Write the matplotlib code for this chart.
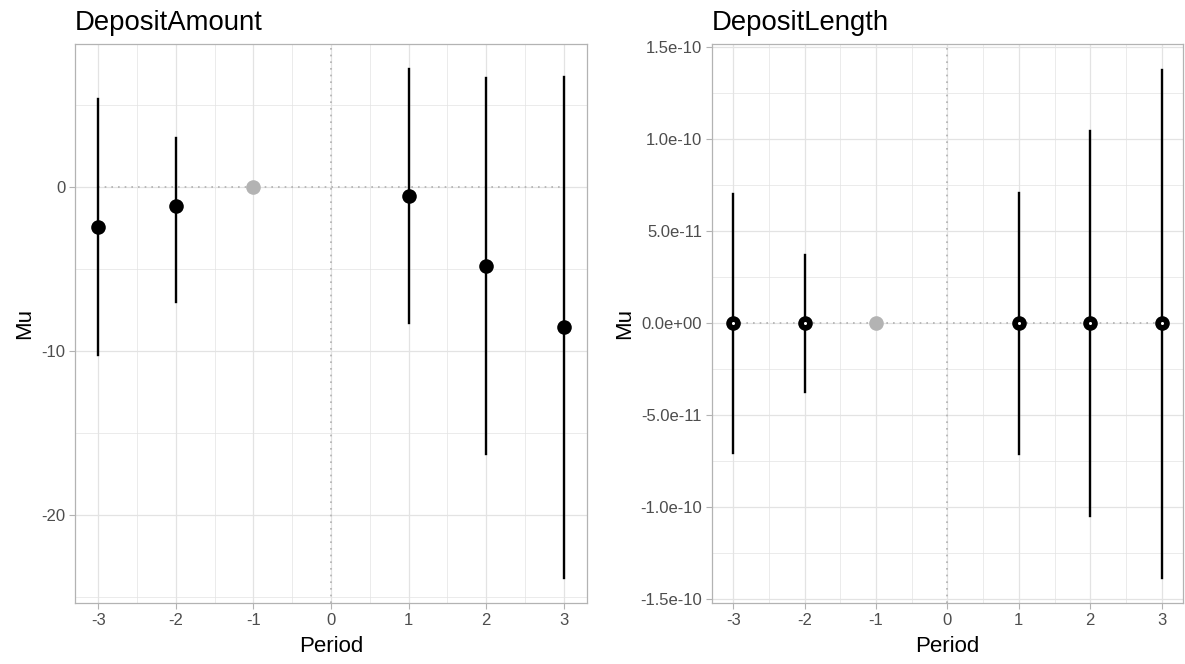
import matplotlib
matplotlib.use("Agg")
import matplotlib.pyplot as plt
import numpy as np

plt.rcParams['font.family'] = ['Liberation Sans', 'DejaVu Sans']

period = [-3, -2, -1, 1, 2, 3]
period_ticks = [-3, -2, -1, 0, 1, 2, 3]
period_labels = ["-3", "-2", "-1", "0", "1", "2", "3"]

# DepositAmount
amount_mu = [-2.45, -1.15, 0.0, -0.55, -4.8, -8.55]
amount_lo = [-10.25, -7.0, 0.0, -8.3, -16.3, -23.85]
amount_hi = [5.35, 3.0, 0.0, 7.2, 6.65, 6.7]
amount_ticks = [0, -10, -20]
amount_ticklabels = ["0", "-10", "-20"]

# DepositLength
length_mu = [0.0, 0.0, 0.0, 0.0, 0.0, 0.0]
length_lo = [-7.05e-11, -3.75e-11, 0.0, -7.15e-11, -1.05e-10, -1.385e-10]
length_hi = [7.0e-11, 3.7e-11, 0.0, 7.05e-11, 1.045e-10, 1.375e-10]
length_ticks = [1.5e-10, 1.0e-10, 5.0e-11, 0.0, -5.0e-11, -1.0e-10, -1.5e-10]
length_ticklabels = ["1.5e-10", "1.0e-10", "5.0e-11", "0.0e+00",
                     "-5.0e-11", "-1.0e-10", "-1.5e-10"]

ref_period = -1
grid_col = "#e3e3e3"
frame_col = "#b3b3b3"


def panel(ax, title, mu, lo, hi, yticks, ylabels, ylim, minor, white_center):
    ax.set_facecolor("white")
    ax.set_xlim(-3.3, 3.3)
    ax.set_ylim(*ylim)
    ax.set_xticks(period_ticks)
    ax.set_xticklabels(period_labels)
    ax.set_xticks(np.arange(-2.5, 3.0, 1.0), minor=True)
    ax.set_yticks(yticks)
    ax.set_yticklabels(ylabels)
    ax.set_yticks(minor, minor=True)
    ax.grid(True, which="major", color=grid_col, lw=0.9, zorder=0)
    ax.grid(True, which="minor", color=grid_col, lw=0.5, zorder=0)
    ax.set_axisbelow(True)
    for s in ax.spines.values():
        s.set_color(frame_col)
        s.set_linewidth(0.9)
    ax.tick_params(which="major", color=frame_col, length=4, width=0.8,
                   labelsize=12, labelcolor="#4d4d4d", pad=3)
    ax.tick_params(which="minor", length=0)

    ax.axvline(0, color="#b0b0b0", ls=(0, (1, 3)), lw=1.2, zorder=1)
    ax.plot([-3, 3], [0, 0], color="#b0b0b0", ls=(0, (1, 3)), lw=1.2, zorder=1)

    for p, m, l, h in zip(period, mu, lo, hi):
        if p == ref_period:
            ax.plot(p, m, "o", color="#b3b3b3", ms=10.5, mec="none", zorder=3)
            continue
        ax.plot([p, p], [l, h], color="black", lw=1.7, zorder=2)
        ax.plot(p, m, "o", color="black", ms=10.5, mec="none", zorder=3)
        if white_center:
            ax.plot(p, m, "o", color="white", ms=2.2, mec="none", zorder=4)

    ax.set_xlabel("Period", fontsize=16, labelpad=6)
    ax.set_ylabel("Mu", fontsize=16, labelpad=4)
    ax.set_title(title, loc="left", fontsize=19.8, pad=10)


fig = plt.figure(figsize=(11.85, 6.64), dpi=100)
ax1 = fig.add_axes([0.0633, 0.0919, 0.4321, 0.8419])
ax2 = fig.add_axes([0.6008, 0.0919, 0.3975, 0.8419])

panel(ax1, "DepositAmount", amount_mu, amount_lo, amount_hi,
      amount_ticks, amount_ticklabels, (-25.37, 8.72),
      [5, -5, -15, -25], False)
panel(ax2, "DepositLength", length_mu, length_lo, length_hi,
      length_ticks, length_ticklabels, (-1.522e-10, 1.516e-10),
      list(np.arange(-1.25e-10, 1.5e-10, 5e-11)), True)

fig.savefig("out.png", dpi=100)
